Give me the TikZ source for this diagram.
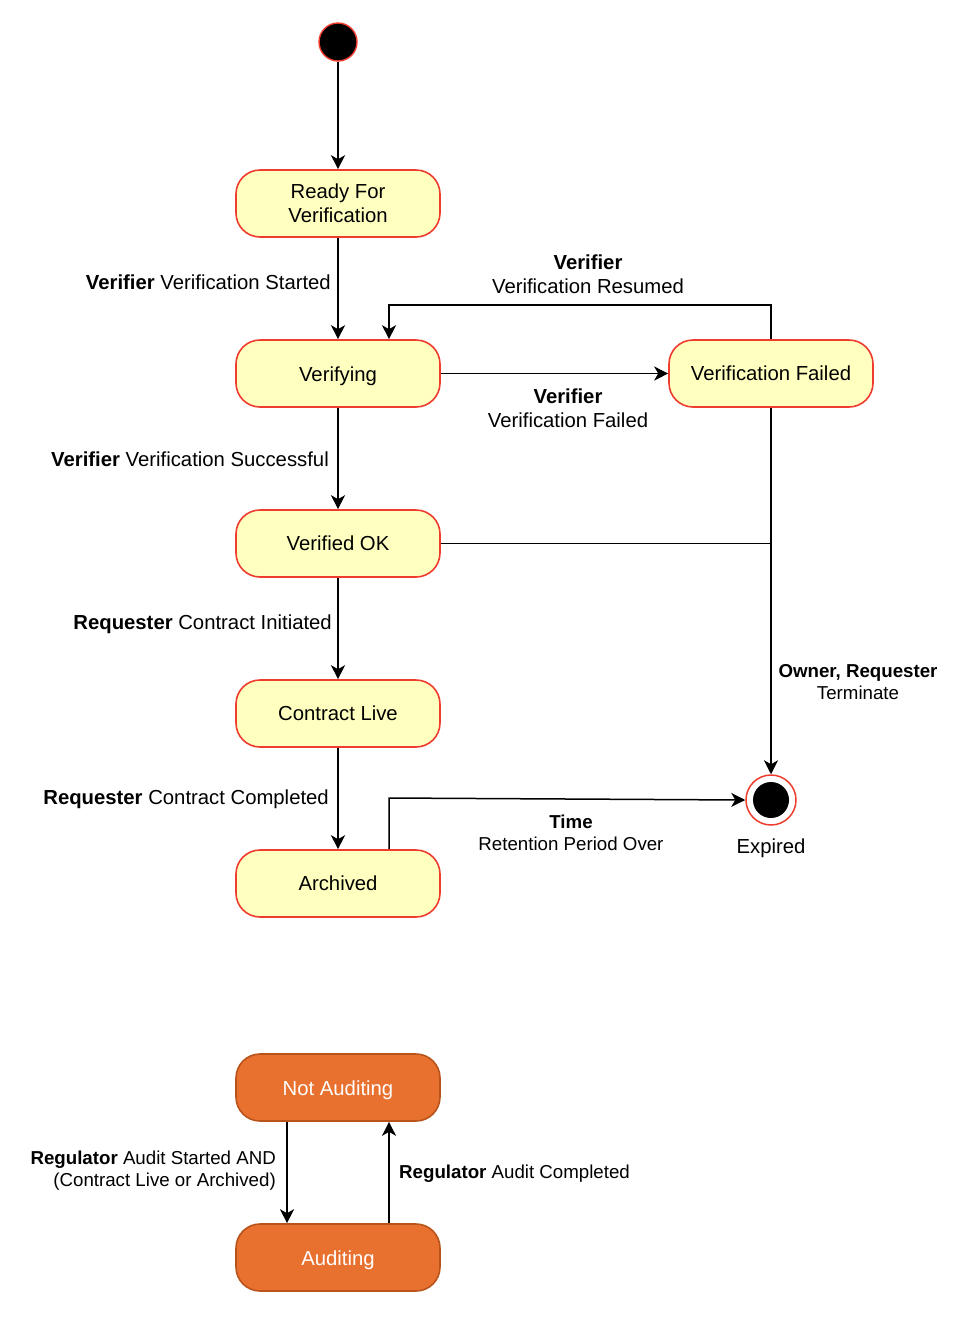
\documentclass[tikz,border=0pt]{standalone}
\usepackage{fontspec}
\setmainfont{Liberation Sans}
\usetikzlibrary{arrows.meta}
\definecolor{stfill}{HTML}{FFFFC0}
\definecolor{ststroke}{HTML}{F03C2E}
\definecolor{orfill}{HTML}{E9712F}
\definecolor{orstroke}{HTML}{B9531C}
\newcommand\lowtxt[1]{\raisebox{-2.5pt}[\height][\depth]{#1}}
\begin{document}
\begin{tikzpicture}[x=1pt,y=-1pt,
  every node/.style={font=\fontsize{20.3}{24}\selectfont},
  state/.style={draw=ststroke,fill=stfill,line width=1.6pt,rounded corners=24pt,minimum width=204pt,minimum height=67pt,align=center,inner sep=0pt},
  ostate/.style={draw=orstroke,fill=orfill,line width=1.6pt,rounded corners=24pt,minimum width=204pt,minimum height=67pt,align=center,inner sep=0pt,text=white},
  conn/.style={line width=1.5pt,-{Stealth[length=14pt,width=14pt,inset=4pt]}},
  lbl/.style={inner sep=0pt,align=center},
  slbl/.style={inner sep=0pt,align=center,font=\fontsize{18.7}{22}\selectfont}
]
\useasboundingbox (0,0) rectangle (956,1326);
% states
\node[circle,fill=black,draw=ststroke,line width=1.4pt,minimum size=38pt,inner sep=0pt] (init) at (338,42) {};
\node[state] (ready) at (338,203.5) {Ready For\\Verification};
\node[state] (verifying) at (338,373.5) {\lowtxt{Verifying}};
\node[state] (vfailed) at (771,373.5) {Verification Failed};
\node[state] (vok) at (338,543.5) {Verified OK};
\node[state] (live) at (338,713.5) {Contract Live};
\node[state] (arch) at (338,883.5) {Archived};
\node[circle,draw=ststroke,fill=white,line width=1.5pt,minimum size=50pt,inner sep=0pt] (exp) at (771,800) {};
\node[circle,fill=black,minimum size=36pt,inner sep=0pt] (expin) at (771,800) {};
\node[lbl] (explbl) at (771,848) {Expired};
\node[ostate] (notaud) at (338,1087.5) {\lowtxt{Not Auditing}};
\node[ostate] (aud) at (338,1257.5) {\lowtxt{Auditing}};
% connectors
\draw[conn] (init) -- (ready);
\draw[conn] (ready) -- (verifying);
\draw[conn] (vfailed.north) -- (771,305) -| ([xshift=51pt]verifying.north);
\draw[conn] (verifying) -- (vfailed);
\draw[conn] (verifying) -- (vok);
\draw[conn] (vfailed.south) -- (exp.north);
\draw[line width=1.5pt] (vok.east) -- (vok.east -| exp.north);
\draw[conn] (vok) -- (live);
\draw[conn] (live) -- (arch);
\draw[conn] ([xshift=51pt]arch.north) -- (389,798) -- (exp.west);
\draw[conn] ([xshift=-51pt]notaud.south) -- ([xshift=-51pt]aud.north);
\draw[conn] ([xshift=51pt]aud.north) -- ([xshift=51pt]notaud.south);
% labels
\node[lbl,anchor=east] (l1) at (331,282) {\textbf{Verifier} Verification Started};
\node[lbl] (l2) at (588,274) {\textbf{Verifier}\\Verification Resumed};
\node[lbl] (l3) at (568,408) {\textbf{Verifier}\\Verification Failed};
\node[lbl,anchor=east] (l4) at (329,459) {\textbf{Verifier} Verification Successful};
\node[lbl,anchor=east] (l5) at (332,624) {\textbf{Requester} Contract Initiated};
\node[lbl,anchor=east] (l6) at (329,799) {\textbf{Requester} Contract Completed};
\node[slbl] (l7) at (858,682) {\textbf{Owner, Requester}\\Terminate};
\node[slbl] (l8) at (571,833) {\textbf{Time}\\Retention Period Over};
\node[slbl,anchor=east,align=right] (l9) at (276,1171) {\textbf{Regulator} Audit Started AND\\(Contract Live or Archived)};
\node[slbl,anchor=west] (l10) at (399,1174) {\textbf{Regulator} Audit Completed};
\end{tikzpicture}
\end{document}
